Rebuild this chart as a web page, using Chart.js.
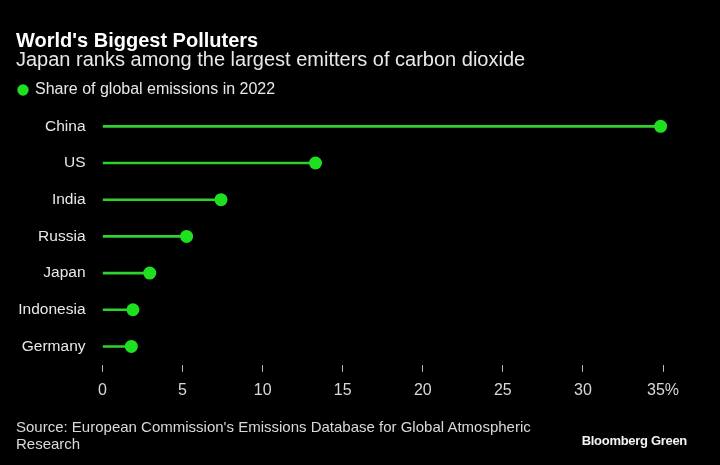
<!DOCTYPE html>
<html>
<head>
<meta charset="utf-8">
<script src="https://cdn.jsdelivr.net/npm/chart.js@4"></script>
<style>
  html, body { margin: 0; padding: 0; background: #000; }
  body { width: 720px; height: 465px; position: relative; overflow: hidden; font-family: "Liberation Sans", Arial, sans-serif; }
  #wrap { position: absolute; left: 0; top: 0; width: 720px; height: 465px; }
  .txt { position: absolute; left: 16px; white-space: nowrap; }
  #title { top: 29px; font-size: 20px; font-weight: bold; color: #fff; }
  #subtitle { top: 48px; font-size: 20px; color: #e8e8e8; }
  #source { top: 418px; font-size: 15px; line-height: 17px; color: #d9d9d9; }
  #brand { top: 433px; left: auto; right: 33px; font-size: 13px; font-weight: bold; color: #f2f2f2; letter-spacing: -0.3px; }
</style>
</head>
<body>
<div id="wrap"><canvas id="chart" width="720" height="465"></canvas></div>
<div class="txt" id="title">World's Biggest Polluters</div>
<div class="txt" id="subtitle">Japan ranks among the largest emitters of carbon dioxide</div>
<div class="txt" id="source">Source: European Commission's Emissions Database for Global Atmospheric<br>Research</div>
<div class="txt" id="brand">Bloomberg Green</div>
<script>
// donnees
const countries = ["China", "US", "India", "Russia", "Japan", "Indonesia", "Germany"];
const shares = [34.85, 13.3, 7.4, 5.25, 2.95, 1.9, 1.8];
const xTicks = [0, 5, 10, 15, 20, 25, 30, 35];

const green = "#1fe01f";

new Chart(document.getElementById("chart").getContext("2d"), {
    data: {
        labels: countries,
        datasets: [{
            type: "bar",
            label: "stem",
            data: shares,
            backgroundColor: "#2fd02f",
            barThickness: 2,
            order: 2
        }, {
            type: "line",
            label: "Share of global emissions in 2022",
            data: shares,
            showLine: false,
            clip: false,
            pointRadius: 6.5,
            pointHoverRadius: 6.5,
            pointStyle: "circle",
            backgroundColor: green,
            borderColor: green,
            borderWidth: 0,
            order: 1
        }]
    },
    options: {
        indexAxis: "y",
        responsive: false,
        animation: false,
        layout: { padding: { left: 14, right: 57, top: 77, bottom: 56 } },
        plugins: {
            legend: {
                align: "start",
                labels: {
                    filter: item => item.datasetIndex === 1,
                    usePointStyle: true,
                    boxWidth: 8,
                    boxHeight: 8,
                    padding: 5,
                    color: "#e8e8e8",
                    font: { family: "Liberation Sans", size: 16 }
                }
            },
            tooltip: { enabled: false }
        },
        scales: {
            x: {
                type: "linear",
                min: 0,
                max: 35,
                afterBuildTicks: scale => { scale.ticks = xTicks.map(v => ({ value: v })); },
                border: { display: false },
                grid: { drawOnChartArea: false, drawTicks: true, tickLength: 7, tickColor: "#bdbdbd", lineWidth: 1 },
                ticks: {
                    color: "#d9d9d9",
                    padding: 9,
                    font: { family: "Liberation Sans", size: 16 },
                    callback: v => v === 35 ? "35%" : v
                }
            },
            y: {
                afterFit: scale => { scale.width = 88.5; },
                border: { display: false },
                grid: { display: false, drawTicks: false },
                ticks: {
                    color: "#e8e8e8",
                    padding: 17,
                    font: { family: "Liberation Sans", size: 15.5 }
                }
            }
        }
    }
});
</script>
</body>
</html>
